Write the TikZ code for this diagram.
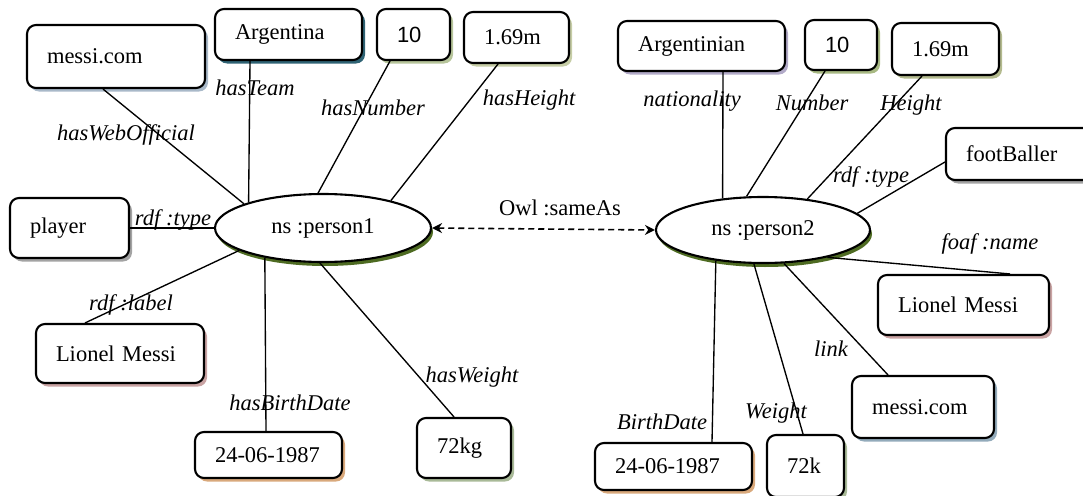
\documentclass[tikz,border=0pt]{standalone}
\usepackage{fontspec}
\setmainfont{Liberation Serif}
\newfontfamily\sansfam{Liberation Sans}
\usetikzlibrary{shadows,arrows.meta,shapes.geometric}
\definecolor{shMcA}{HTML}{A9B9C9}
\definecolor{shArg}{HTML}{2F6374}
\definecolor{shNumA}{HTML}{B7C59B}
\definecolor{shHA}{HTML}{C6CDA6}
\definecolor{shGray}{HTML}{A3A3A3}
\definecolor{shPink}{HTML}{C9A3A3}
\definecolor{shTan}{HTML}{D9A97C}
\definecolor{shGreen}{HTML}{A9BA98}
\definecolor{shLav}{HTML}{B2AAC8}
\definecolor{shNumB}{HTML}{A8B983}
\definecolor{shHB}{HTML}{B3BA8E}
\definecolor{shMcB}{HTML}{93ABBB}
\definecolor{shOlive}{HTML}{4E6B22}
\tikzset{
  box/.style={draw, line width=2.1pt, rounded corners=9pt, fill=white, align=left,
    inner xsep=20pt, inner ysep=0pt, font=\fontsize{22.5}{26}\selectfont},
  sh/.style={drop shadow={shadow xshift=3pt, shadow yshift=-3.5pt, fill=#1, opacity=1}},
  res/.style={draw, line width=2.1pt, ellipse, fill=white, inner sep=0pt,
    font=\fontsize{22.5}{26}\selectfont,
    drop shadow={shadow xshift=2pt, shadow yshift=-4pt, fill=shOlive, opacity=1}},
  prop/.style={font=\fontsize{22.5}{26}\selectfont\itshape, inner sep=0pt},
  plain/.style={font=\fontsize{22.5}{26}\selectfont, inner sep=0pt},
  link/.style={line width=1.35pt},
  same/.style={line width=1.6pt, dash pattern=on 6pt off 4pt, {Stealth[length=10pt,width=10pt]}-{Stealth[length=10pt,width=10pt]}}
}
\begin{document}
\begin{tikzpicture}[x=1pt,y=-1pt]
\useasboundingbox (0,0) rectangle (1083,495);
\clip (0,0) rectangle (1083,495);
% resources
\node[res, minimum width=216pt, minimum height=68pt] (p1) at (323,228) {ns :person1};
\node[res, minimum width=214pt, minimum height=66pt] (p2) at (763,230) {ns :person2};
% left boxes
\node[box, sh=shMcA, text width=138pt, minimum height=63pt] (mc1) at (116,56.5) {messi.com};
\node[box, sh=shArg, text width=107pt, minimum height=51pt] (arg1) at (288.5,34.5) {Argentina};
\node[box, sh=shNumA, text width=33pt, minimum height=51pt, font=\fontsize{22}{26}\sansfam] (n1) at (413.5,34.5) {10};
\node[box, sh=shHA, text width=65pt, minimum height=51pt] (h1) at (516.5,37.5) {1.69m};
\node[box, sh=shGray, text width=79pt, minimum height=60pt] (pl) at (69.5,228) {player};
\node[box, sh=shPink, text width=128pt, minimum height=59pt] (lm1) at (120,353.5) {Lionel Messi};
\node[box, sh=shTan, text width=107pt, minimum height=46pt] (bd1) at (268.5,455) {24-06-1987};
\node[box, sh=shGreen, text width=54pt, minimum height=60pt] (w1) at (464,448) {72kg};
% right boxes
\node[box, sh=shLav, text width=127pt, minimum height=50pt] (arg2) at (701.5,46) {Argentinian};
\node[box, sh=shNumB, text width=32pt, minimum height=50pt, font=\fontsize{22}{26}\sansfam] (n2) at (841,45) {10};
\node[box, sh=shHB, text width=67pt, minimum height=52pt] (h2) at (945.5,49) {1.69m};
\node[box, sh=shGray, text width=114pt, minimum height=52pt] (fb) at (1023,154) {footBaller};
\node[box, sh=shPink, text width=131pt, minimum height=60pt] (lm2) at (963.5,305) {Lionel Messi};
\node[box, sh=shMcB, text width=102pt, minimum height=62pt] (mc2) at (923,407) {messi.com};
\node[box, sh=shGreen, text width=37pt, minimum height=62pt] (w2) at (805.5,466) {72k};
\node[box, sh=shTan, text width=117pt, minimum height=47pt] (bd2) at (673.5,466.5) {24-06-1987};
% left connectors
\draw[link] ([xshift=-13pt]mc1.south) -- (p1.163);
\draw[link] ([xshift=-38.5pt]arg1.south) -- (p1.161);
\draw[link] ([xshift=-23.5pt]n1.south) -- (p1.98);
\draw[link] ([xshift=-18.5pt]h1.south) -- (p1.22);
\draw[link] (pl.east) -- (p1.west);
\draw[link] ([xshift=-35pt]lm1.north) -- (p1.195);
\draw[link] ([xshift=-2.5pt]bd1.north) -- (p1.207);
\draw[link] ([xshift=-10pt]w1.north) -- (p1.265);
% right connectors
\draw[link] ([xshift=21.5pt]arg2.south) -- (p2.142.6);
\draw[link] ([xshift=-16pt]n2.south) -- (p2.116);
\draw[link] ([xshift=-23.5pt]h2.south) -- (p2.35.8);
\draw[link] ([yshift=-8pt]fb.west) -- (p2.10.3);
\draw[link] (p2.-23.5) -- ([xshift=46.5pt]lm2.north);
\draw[link] (p2.-58.3) -- ([xshift=-35pt]mc2.north);
\draw[link] (p2.-105.3) -- ([xshift=-2.5pt]w2.north);
\draw[link] (p2.213.6) -- ([xshift=38.5pt]bd2.north);
% sameAs
\draw[same] (p1.east) -- (p2.west);
\node[plain] (sa) at (560,208) {Owl :sameAs};
% property labels
\node[prop] (lTeam) at (255,88) {hasTeam};
\node[prop] (lNum1) at (373,108) {hasNumber};
\node[prop] (lH1) at (529,100) {hasHeight};
\node[prop] (lWeb) at (126,135) {hasWebOfficial};
\node[prop] (lType1) at (173,220) {rdf :type};
\node[prop] (lLab) at (131,305) {rdf :label};
\node[prop] (lBD1) at (290,403) {hasBirthDate};
\node[prop] (lW1) at (472,377) {hasWeight};
\node[prop] (lNat) at (692,101) {nationality};
\node[prop] (lNum2) at (812,103) {Number};
\node[prop] (lH2) at (911,105) {Height};
\node[prop] (lType2) at (871,177) {rdf :type};
\node[prop] (lName) at (990,244) {foaf :name};
\node[prop] (lLink) at (831,349) {link};
\node[prop] (lW2) at (776,413) {Weight};
\node[prop] (lBD2) at (662,422) {BirthDate};
\end{tikzpicture}
\end{document}
